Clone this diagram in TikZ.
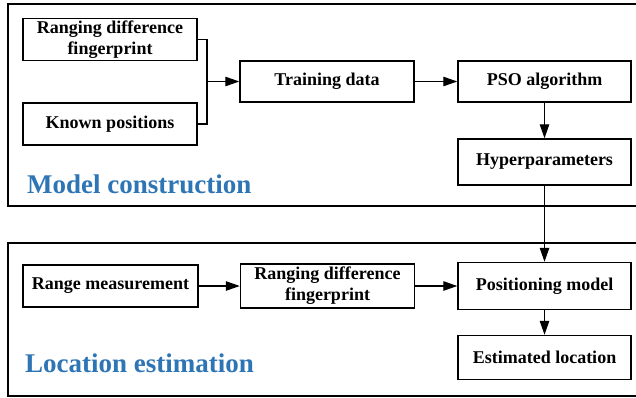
\documentclass[tikz,border=0pt]{standalone}
\usepackage{fontspec}
\setmainfont{Liberation Serif}
\usetikzlibrary{arrows.meta}
\definecolor{secblue}{RGB}{46,117,182}
\begin{document}
\begin{tikzpicture}[x=1pt,y=-1pt,
  box/.style={draw,line width=1.5pt,inner sep=0pt,align=center,
    font=\fontsize{18}{21}\selectfont\bfseries},
  frame/.style={draw,line width=2pt},
  arr/.style={line width=1.2pt,-{Triangle[length=14pt,width=9.5pt]}},
  lin/.style={line width=1.2pt},
  sec/.style={anchor=base west,inner sep=0pt,text=secblue,
    font=\fontsize{27}{30}\selectfont\bfseries}]
\useasboundingbox[fill=white] (0,0) rectangle (636,397);
% frames
\draw[frame] (8,4) rectangle (648,206);
\draw[frame] (8,243) rectangle (648,396);
% nodes
\node[box,minimum width=174pt,minimum height=42pt] (rdf1) at (110,39.5) {Ranging difference\\fingerprint};
\node[box,minimum width=174pt,minimum height=42pt] (known) at (110,124) {Known positions};
\node[box,minimum width=174pt,minimum height=41pt] (train) at (327,81.5) {Training data};
\node[box,minimum width=173pt,minimum height=41pt] (pso) at (544.5,81.5) {PSO algorithm};
\node[box,minimum width=173pt,minimum height=46pt] (hyper) at (544.5,162) {Hyperparameters};
\node[box,minimum width=175pt,minimum height=42pt] (range) at (110.5,286) {Range measurement};
\node[box,minimum width=174pt,minimum height=44pt] (rdf2) at (327.5,286) {Ranging difference\\fingerprint};
\node[box,minimum width=173pt,minimum height=47pt] (posm) at (544.5,286) {Positioning model};
\node[box,minimum width=173pt,minimum height=44pt] (est) at (544.5,357.5) {Estimated location};
% section labels
\node[sec] (lab1) at (27,193) {Model construction};
\node[sec] (lab2) at (25,372) {Location estimation};
% connectors
\coordinate (j1) at (207,39.5);
\coordinate (j2) at (207,124);
\coordinate (jm) at (207,81.5);
\draw[lin] (rdf1.east) -- (j1) -- (j2) -- (known.east);
\draw[arr] (jm) -- (train.west);
\draw[arr] (train) -- (pso);
\draw[arr] (pso) -- (hyper);
\draw[arr] (hyper) -- (posm);
\draw[arr] (range) -- (rdf2);
\draw[arr] (rdf2) -- (posm);
\draw[arr] (posm) -- (est);
\end{tikzpicture}
\end{document}
